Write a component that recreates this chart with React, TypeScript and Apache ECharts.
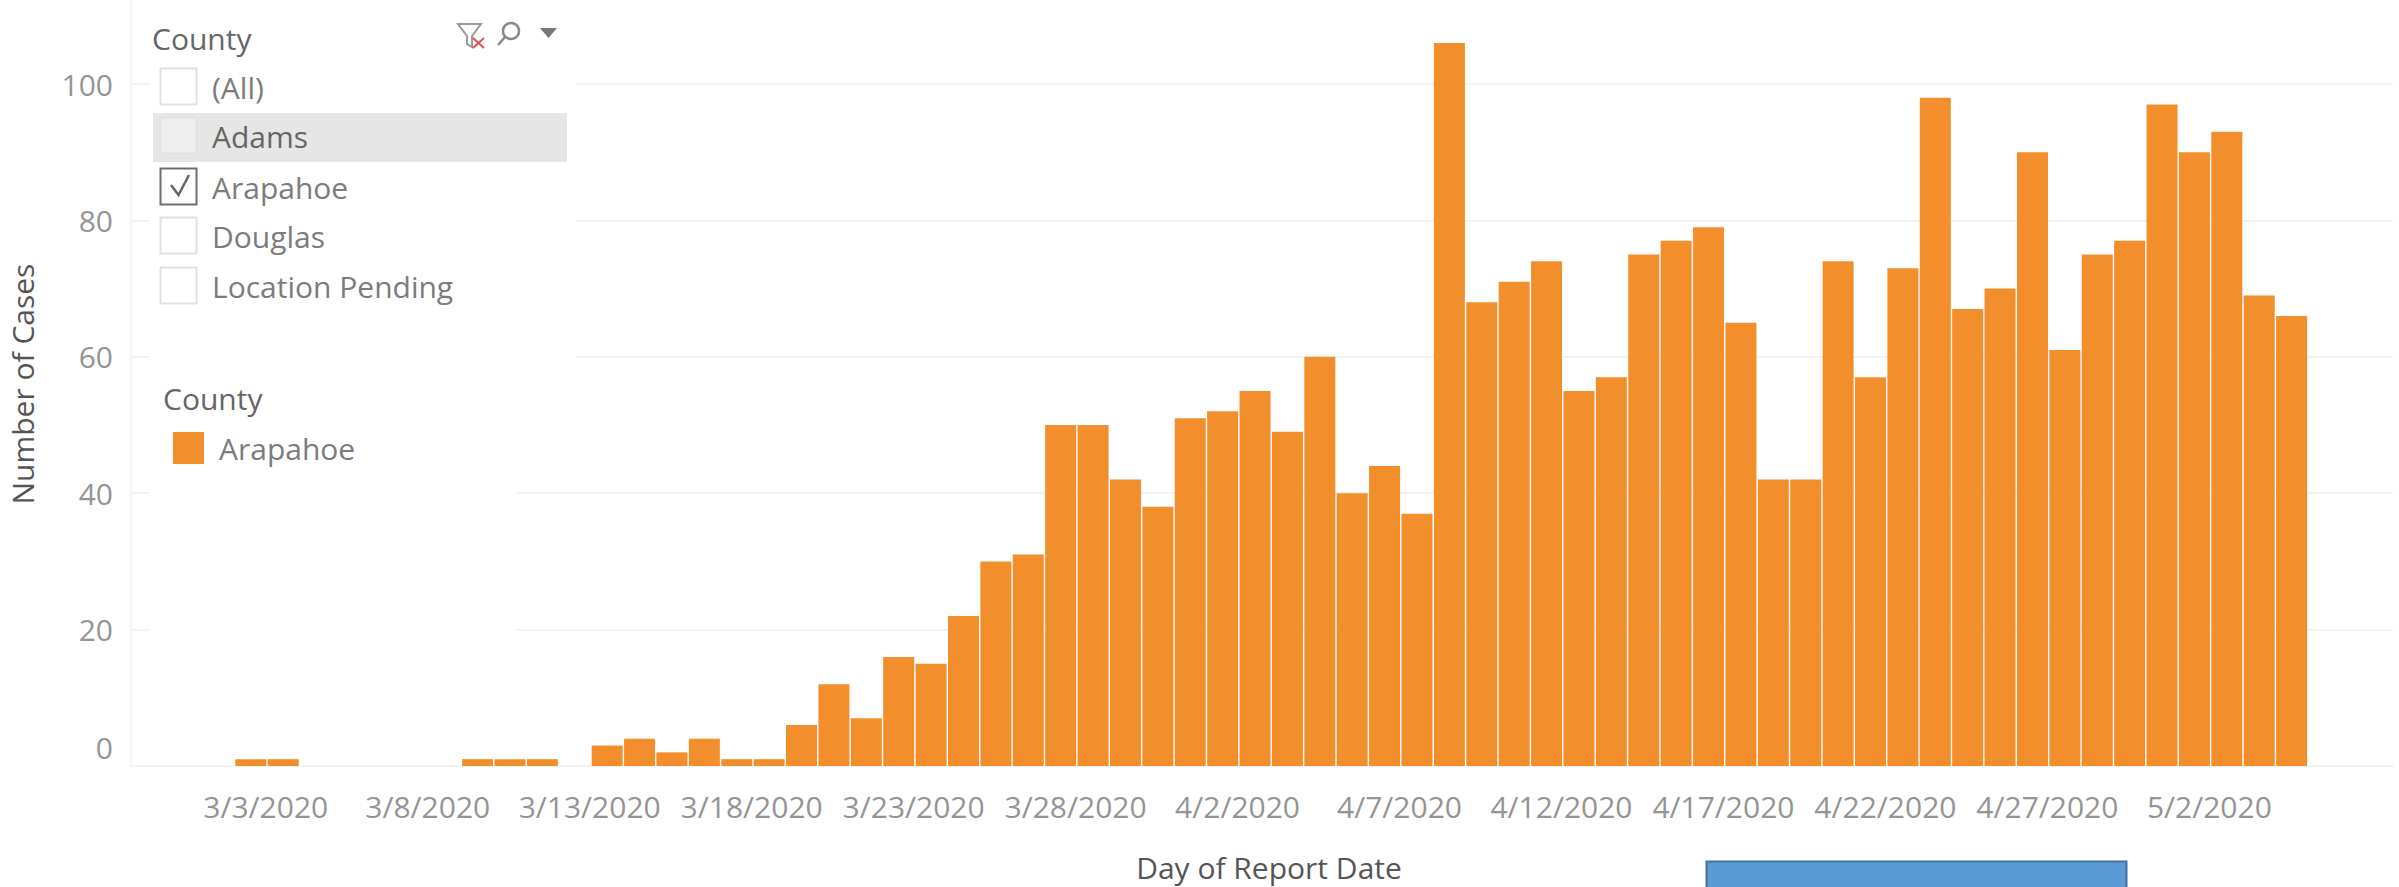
import React, { useEffect, useRef } from "react";
import * as echarts from "echarts";

const categories = ["3/3/2020","3/4/2020","3/5/2020","3/6/2020","3/7/2020","3/8/2020","3/9/2020","3/10/2020","3/11/2020","3/12/2020","3/13/2020","3/14/2020","3/15/2020","3/16/2020","3/17/2020","3/18/2020","3/19/2020","3/20/2020","3/21/2020","3/22/2020","3/23/2020","3/24/2020","3/25/2020","3/26/2020","3/27/2020","3/28/2020","3/29/2020","3/30/2020","3/31/2020","4/1/2020","4/2/2020","4/3/2020","4/4/2020","4/5/2020","4/6/2020","4/7/2020","4/8/2020","4/9/2020","4/10/2020","4/11/2020","4/12/2020","4/13/2020","4/14/2020","4/15/2020","4/16/2020","4/17/2020","4/18/2020","4/19/2020","4/20/2020","4/21/2020","4/22/2020","4/23/2020","4/24/2020","4/25/2020","4/26/2020","4/27/2020","4/28/2020","4/29/2020","4/30/2020","5/1/2020","5/2/2020","5/3/2020","5/4/2020","5/5/2020"];
const cases = [1,1,0,0,0,0,0,1,1,1,0,3,4,2,4,1,1,6,12,7,16,15,22,30,31,50,50,42,38,51,52,55,49,60,40,44,37,106,68,71,74,55,57,75,77,79,65,42,42,74,57,73,98,67,70,90,61,75,77,97,90,93,69,66];
const tickPositions = [0,5,10,15,20,25,30,35,40,45,50,55,60];
const filterItems = ["(All)","Adams","Arapahoe","Douglas","Location Pending"];
const selectedItem = "Arapahoe";
const hoveredItem = "Adams";

const FONT = "'Open Sans', sans-serif";
const ORANGE = "#f28e2b";

export default function App() {
  const ref = useRef<HTMLDivElement>(null);
  useEffect(() => {
    const chart = echarts.init(ref.current!, null, { renderer: "svg" });
    const rowTop = [68, 117, 168, 217, 267];
    const rowGraphics: any[] = [];
    filterItems.forEach((name, i) => {
      const y = rowTop[i];
      if (name === hoveredItem) {
        rowGraphics.push({ type: "rect", z: 2, shape: { x: 153, y: 113, width: 414, height: 49 }, style: { fill: "#e6e6e6" } });
      }
      rowGraphics.push({
        type: "rect", z: 3,
        shape: { x: 160.5, y: y + 0.5, width: 36, height: 36 },
        style: { fill: name === hoveredItem ? "#eeeeee" : "#fff", stroke: name === selectedItem ? "#6e6e6e" : "#e2e2e2", lineWidth: 2 },
      });
      rowGraphics.push({
        type: "text", z: 3, x: 212, y: y + 19,
        style: { text: name, fontFamily: FONT, fontSize: 30, fill: name === hoveredItem ? "#666" : "#7c7c7c", verticalAlign: "middle", align: "left" },
      });
    });
    chart.setOption({
      animation: false,
      backgroundColor: "#ffffff",
      grid: { left: 131, width: 2262, top: 2.16, height: 763.84, containLabel: false, outerBoundsMode: "none" },
      legend: {
        data: ["Arapahoe"], left: 173, top: 432, padding: 0, icon: "rect", itemWidth: 31, itemHeight: 32, itemGap: 0,
        z: 4, selectedMode: false,
        textStyle: { fontFamily: FONT, fontSize: 30, color: "#7c7c7c", padding: [0, 0, 0, 10] },
      },
      xAxis: {
        type: "value", min: -3.7, max: 66.13,
        name: "Day of Report Date", nameLocation: "middle", nameGap: 86,
        nameTextStyle: { fontFamily: FONT, fontSize: 30, lineHeight: 30, color: "#555", padding: [0, 0, 0, 14] },
        axisLine: { show: true, lineStyle: { color: "#f3f3f3", width: 2 } },
        axisTick: { show: false }, splitLine: { show: false },
        axisLabel: {
          customValues: tickPositions.map((v) => v + 0.46),
          formatter: (v: number) => categories[Math.floor(v)] ?? "",
          fontFamily: FONT, fontSize: 30, color: "#949494", margin: 25, hideOverlap: false,
        },
      },
      yAxis: {
        type: "value", min: 0, max: 112, interval: 20,
        name: "Number of Cases", nameLocation: "middle", nameGap: 94, nameRotate: 90,
        nameTextStyle: { fontFamily: FONT, fontSize: 30, color: "#555" },
        axisLine: { show: true, onZero: false, lineStyle: { color: "#f5f5f5", width: 2 } },
        axisTick: { show: false },
        splitLine: { show: true, showMaxLine: false, lineStyle: { color: "#f4f4f4", width: 2 } },
        axisLabel: {
          formatter: (v: number) => (v > 100 ? "" : v === 0 ? "{zero|0}" : String(v)),
          rich: { zero: { fontFamily: FONT, fontSize: 30, color: "#949494", padding: [0, 0, 38, 0] } },
          fontFamily: FONT, fontSize: 30, color: "#949494", margin: 18,
        },
      },
      series: [{
        name: "Arapahoe", type: "bar", barWidth: 31, z: 5,
        itemStyle: { color: ORANGE },
        data: cases.map((v, i) => [i, v]),
      }],
      graphic: [
        { type: "rect", z: 1, shape: { x: 150, y: 0, width: 426, height: 390 }, style: { fill: "#fff" } },
        { type: "rect", z: 1, shape: { x: 150, y: 390, width: 366, height: 270 }, style: { fill: "#fff" } },
        { type: "text", z: 3, x: 152, y: 38, style: { text: "County", fontFamily: FONT, fontSize: 30, fill: "#666", verticalAlign: "middle" } },
        { type: "text", z: 3, x: 163, y: 398, style: { text: "County", fontFamily: FONT, fontSize: 30, fill: "#666", verticalAlign: "middle" } },
        ...rowGraphics,
        { type: "polyline", z: 4, shape: { points: [[171, 185], [178.5, 195], [189, 175]] }, style: { stroke: "#666", lineWidth: 2.5, fill: "none" } },
        { type: "polygon", z: 3, shape: { points: [[458, 24], [481, 24], [472, 36], [472, 47], [467, 44], [467, 36]] }, style: { fill: "#fff", stroke: "#999", lineWidth: 2 } },
        { type: "line", z: 4, shape: { x1: 473, y1: 38, x2: 484, y2: 48 }, style: { stroke: "#d9534f", lineWidth: 2 } },
        { type: "line", z: 4, shape: { x1: 484, y1: 38, x2: 473, y2: 48 }, style: { stroke: "#d9534f", lineWidth: 2 } },
        { type: "circle", z: 3, shape: { cx: 511, cy: 31, r: 8 }, style: { fill: "#fff", stroke: "#888", lineWidth: 2.5 } },
        { type: "line", z: 3, shape: { x1: 505, y1: 37, x2: 498, y2: 45 }, style: { stroke: "#888", lineWidth: 2.5 } },
        { type: "polygon", z: 3, shape: { points: [[540, 28], [557, 28], [548.5, 38]] }, style: { fill: "#777" } },
        { type: "rect", z: 3, shape: { x: 1706.5, y: 861.5, width: 420, height: 30 }, style: { fill: "#5b9bd5", stroke: "#41719c", lineWidth: 2 } },
      ],
    });
    return () => chart.dispose();
  }, []);
  return <div ref={ref} style={{ position: "absolute", left: 0, top: 0, width: 2399, height: 887 }} />;
}
